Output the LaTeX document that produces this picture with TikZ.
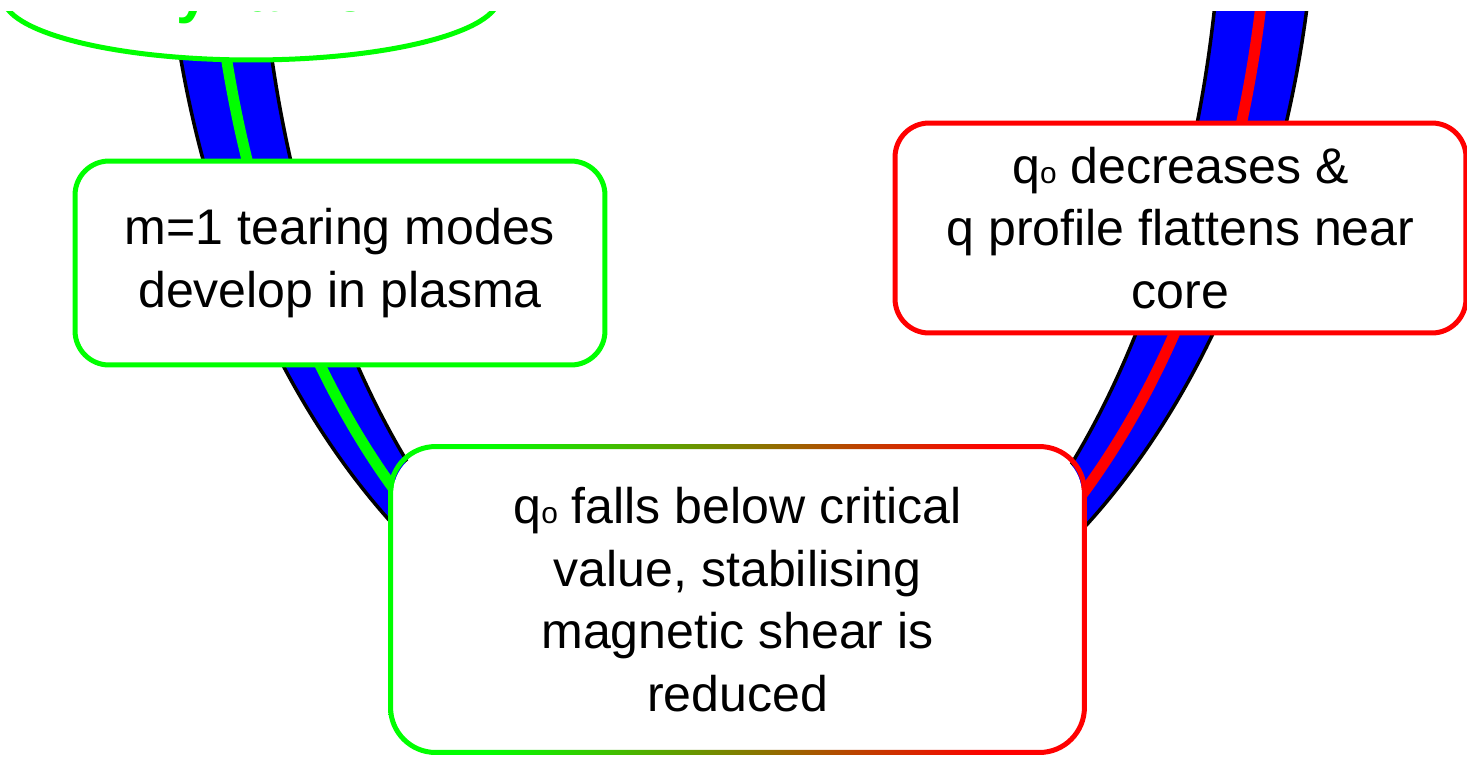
\documentclass[tikz,border=0pt]{standalone}
\usepackage{fontspec}
\setmainfont{Liberation Sans}
\usetikzlibrary{shapes.geometric}

\pgfdeclarehorizontalshading{grborder}{100bp}{color(0bp)=(green); color(32bp)=(green); color(68bp)=(red); color(100bp)=(red)}
\newcommand{\qnought}{q{\fontsize{17}{17}\selectfont o}}

\begin{document}
\begin{tikzpicture}[x=0.02cm,y=-0.02cm,
    box/.style={rectangle, rounded corners=0.68cm, fill=white, line width=0.1cm, inner sep=0pt, align=center, font=\fontsize{28.5}{35.6}\selectfont}]
      \useasboundingbox (0,0) rectangle (1467,758);
      \clip (0,11) rectangle (1467,758);
      % the band of the cycle
      \filldraw[fill=blue, draw=black, line width=0.07cm, even odd rule] (740,-150) ellipse [x radius=577, y radius=844] (740,-150) ellipse [x radius=483, y radius=844];
      \draw[domain=90:200,smooth,samples=60,variable=\t,green,line width=0.22cm] plot ({740+530*cos(\t)},{-150+844*sin(\t)});
      \draw[domain=-20:90,smooth,samples=60,variable=\t,red,line width=0.22cm] plot ({740+530*cos(\t)},{-150+844*sin(\t)});
      % the stages
      \node[ellipse, draw=green, fill=white, line width=0.1cm, minimum width=9.92cm, minimum height=2.52cm, text=green, font=\fontsize{34}{40}\selectfont\bfseries] (dynamo) at (251,-3) {Dynamo};
      \node[box, draw=green, minimum width=10.6cm, minimum height=4.08cm] (tearing) at (340,263) {m=1 tearing modes\\develop in plasma};
      \node[box, draw=red, minimum width=11.42cm, minimum height=4.2cm] (flatten) at (1180.5,228) {\qnought{} decreases \&\\q profile flattens near\\core};
      \node[box, rounded corners=0.9cm, minimum width=13.78cm, minimum height=6.02cm] (shear) at (737.5,599.5) {\qnought{} falls below critical\\value, stabilising\\magnetic shear is\\reduced};
      \shade[shading=grborder, even odd rule]
        [rounded corners=0.95cm] ([shift={(-0.05cm,0.05cm)}]shear.north west) rectangle ([shift={(0.05cm,-0.05cm)}]shear.south east)
        [rounded corners=0.85cm] ([shift={(0.05cm,-0.05cm)}]shear.north west) rectangle ([shift={(-0.05cm,0.05cm)}]shear.south east);
\end{tikzpicture}
\end{document}
